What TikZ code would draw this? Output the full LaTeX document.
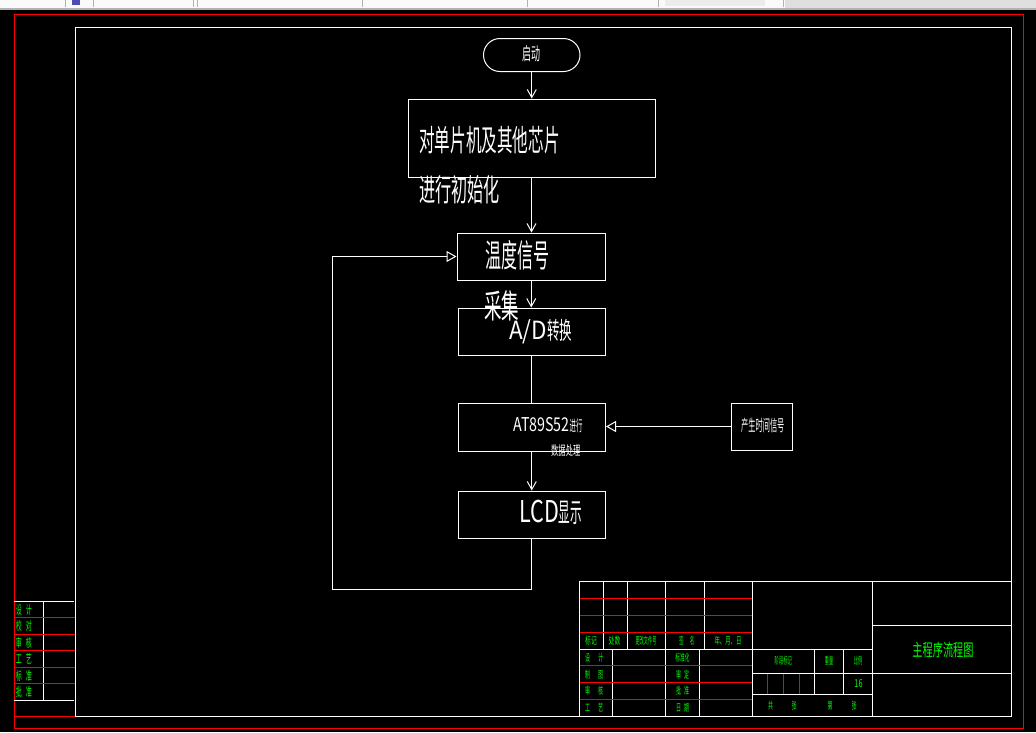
\documentclass[tikz,border=0pt]{standalone}
\usepackage{fontspec}
\usepackage{graphicx}
\newfontfamily\cjk{Noto Sans CJK SC}
\usetikzlibrary{arrows.meta}
\definecolor{cadred}{RGB}{255,0,0}
\definecolor{cadgreen}{RGB}{0,255,0}
\newcommand\tx[3]{\scalebox{#1}[1]{\fontsize{#2}{#2}\selectfont #3}}
\begin{document}
\begin{tikzpicture}[x=1pt,y=-1pt,
  box/.style={draw=white,line width=1pt,inner sep=0pt},
  lbl/.style={text=white,inner sep=0pt,anchor=west,font=\cjk},
  glbl/.style={text=cadgreen,inner sep=0pt,font=\cjk},
  wl/.style={draw=white,line width=1pt},
  rl/.style={draw=cadred,line width=1pt},
  varr/.style={wl,-{Straight Barb[length=8pt,width=9pt]}},
  tarr/.style={wl,-{Triangle[open,length=10pt,width=11pt]}}]
\useasboundingbox (0,0) rectangle (1036,732);
\fill[black] (0,0) rectangle (1036,732);
% toolbar strip
\fill[white!96!gray] (0,0) rectangle (785,8);
\fill[gray!25] (785,0) rectangle (1036,10);
\fill[gray!15] (665,0) rectangle (765,6);
\fill[gray!60] (0,8) rectangle (1036,10);
\foreach \xx in {65,93,193,197,362,527,658,783}{\draw[gray!60,line width=0.8pt] (\xx,0) -- (\xx,7);}
\fill[blue!40!gray] (72,0) rectangle (80,5);
% frames
\draw[rl] (14,14.5) rectangle (1023,728);
\draw[wl] (75,27) rectangle (1011,716);
% left panel
\draw[wl] (14,601.3) -- (74,601.3) (43.3,601.3) -- (43.3,700) (14,700) -- (74,700);
\foreach \yy in {617.3,634,650.7,667.3,683.7,716.5}{\draw[rl] (14.5,\yy) -- (74.5,\yy);}
\node[glbl] (l1) at (24,609.5) {\tx{0.5}{12}{设\hspace{8pt}计}};
\node[glbl] (l2) at (24,626) {\tx{0.5}{12}{校\hspace{8pt}对}};
\node[glbl] (l3) at (24,642.5) {\tx{0.5}{12}{审\hspace{8pt}核}};
\node[glbl] (l4) at (24,659) {\tx{0.5}{12}{工\hspace{8pt}艺}};
\node[glbl] (l5) at (24,675.5) {\tx{0.5}{12}{标\hspace{8pt}准}};
\node[glbl] (l6) at (24,692) {\tx{0.5}{12}{批\hspace{8pt}准}};
% title block
\draw[wl] (579,581) -- (1011,581) (579,581) -- (579,716);
\foreach \xx in {603.3,627.3,665.3,704.3}{\draw[wl] (\xx,581) -- (\xx,649.3);}
\draw[wl] (752.3,581) -- (752.3,716) (872.3,581) -- (872.3,716);
\draw[wl] (579,649.3) -- (872.3,649.3);
\foreach \xx in {612.3,665.3,699.3}{\draw[wl] (\xx,649.3) -- (\xx,716);}
\draw[wl] (872.3,625.3) -- (1011,625.3) (752.3,673.3) -- (1011,673.3) (752.3,694.3) -- (872.3,694.3);
\draw[wl] (814.3,649.3) -- (814.3,694.3) (843.3,649.3) -- (843.3,694.3);
\foreach \yy in {598.3,615.3,632.3,665,682.3,699.3}{\draw[rl] (579.5,\yy) -- (751.8,\yy);}
\foreach \xx in {767.3,783.3,799.3}{\draw[rl] (\xx,673.8) -- (\xx,693.8);}
% title block texts
\node[glbl] (h1) at (591,641) {\tx{0.58}{10}{标记}};
\node[glbl] (h2) at (614.5,641) {\tx{0.58}{10}{处数}};
\node[glbl] (h3) at (646,641) {\tx{0.42}{10}{更改文件号}};
\node[glbl] (h4) at (686.7,641) {\tx{0.45}{10}{签\hspace{14pt}名}};
\node[glbl] (h5) at (728,641) {\tx{0.54}{10}{年、月、日}};
\node[glbl] (r1) at (594,658) {\tx{0.5}{10}{设\hspace{16pt}计}};
\node[glbl] (r2) at (594,674.5) {\tx{0.5}{10}{制\hspace{16pt}图}};
\node[glbl] (r3) at (594,691) {\tx{0.5}{10}{审\hspace{16pt}核}};
\node[glbl] (r4) at (594,707.5) {\tx{0.5}{10}{工\hspace{16pt}艺}};
\node[glbl] (s1) at (682.5,658) {\tx{0.47}{10}{标准化}};
\node[glbl] (s2) at (682.5,674.5) {\tx{0.5}{10}{审\hspace{6pt}定}};
\node[glbl] (s3) at (682.5,691) {\tx{0.5}{10}{批\hspace{6pt}准}};
\node[glbl] (s4) at (682.5,707.5) {\tx{0.5}{10}{日\hspace{6pt}期}};
\node[glbl] (m1) at (783.3,661) {\tx{0.43}{10}{阶段标记}};
\node[glbl] (m2) at (829,661) {\tx{0.42}{10}{重量}};
\node[glbl] (m3) at (858,661) {\tx{0.42}{10}{比例}};
\node[glbl] (m4) at (858.5,684) {\tx{0.66}{11}{16}};
\node[glbl] (z1) at (770.7,705.7) {\tx{0.5}{10}{共}};
\node[glbl] (z2) at (794,705.7) {\tx{0.5}{10}{张}};
\node[glbl] (z3) at (830,705.7) {\tx{0.5}{10}{第}};
\node[glbl] (z4) at (854,705.7) {\tx{0.5}{10}{张}};
\node[glbl] (title) at (943,650) {\tx{0.6}{17}{主程序流程图}};
% flowchart boxes
\node[box,rounded corners=16.5pt,minimum width=96.5pt,minimum height=33pt] (st) at (531.75,55) {};
\node[box,minimum width=247pt,minimum height=78pt] (b1) at (531.5,138) {};
\node[box,minimum width=148.5pt,minimum height=47pt] (b2) at (531.25,256.5) {};
\node[box,minimum width=147.5pt,minimum height=47pt] (b3) at (531.75,331.5) {};
\node[box,minimum width=147.5pt,minimum height=48pt] (b4) at (531.75,427) {};
\node[box,minimum width=61pt,minimum height=47pt] (b5) at (762,426.5) {};
\node[box,minimum width=147.5pt,minimum height=47pt] (b6) at (531.75,514.5) {};
% texts
\node[text=white,inner sep=0pt,font=\cjk] (t0) at (531,54) {\tx{0.5}{18}{启动}};
\node[lbl] (t1) at (419,140) {\tx{0.52}{30}{对单片机及其他芯片}};
\node[lbl] (t1b) at (419,189.5) {\tx{0.52}{31}{进行初始化}};
\node[lbl] (t2) at (485,255) {\tx{0.5}{32}{温度信号}};
\node[lbl] (t2b) at (484,306) {\tx{0.53}{33}{采集}};
\node[lbl] (t3) at (509,332) {\tx{0.9}{25}{A/D}\tx{0.52}{24}{转换}};
\node[lbl] (t4) at (513,425) {\tx{0.75}{19}{AT89S52}\tx{0.43}{15}{进行}};
\node[lbl] (t4b) at (551,450.5) {\tx{0.56}{13}{数据处理}};
\node[lbl] (t5) at (741,425.5) {\tx{0.45}{16}{产生时间信号}};
\node[lbl] (t6) at (519,512.5) {\tx{0.72}{30}{LCD}\tx{0.43}{27}{显示}};
% connectors
\draw[varr] (st.south) -- (st.south |- b1.north);
\draw[varr] (b1.south) -- (b1.south |- b2.north);
\draw[varr] (b2.south) -- (b2.south |- b3.north);
\draw[wl] (b3.south) -- (b3.south |- b4.north);
\draw[varr] (b4.south) -- (b4.south |- b6.north);
\draw[tarr] (b5.west) -- (b5.west -| b4.east);
\coordinate (c2) at (332,589);
\draw[tarr] (b6.south) |- (c2) |- (b2.west);
\end{tikzpicture}
\end{document}
